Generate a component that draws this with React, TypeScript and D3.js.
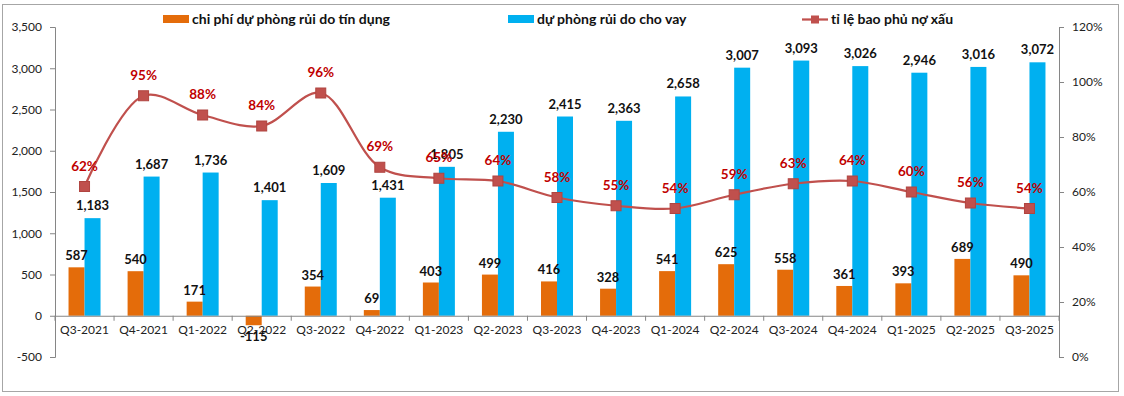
import React, { useEffect, useRef } from 'react'
import * as d3 from 'd3'

const categories = ['Q3-2021', 'Q4-2021', 'Q1-2022', 'Q2-2022', 'Q3-2022', 'Q4-2022', 'Q1-2023', 'Q2-2023', 'Q3-2023', 'Q4-2023', 'Q1-2024', 'Q2-2024', 'Q3-2024', 'Q4-2024', 'Q1-2025', 'Q2-2025', 'Q3-2025']
const creditCost = [587, 540, 171, -115, 354, 69, 403, 499, 416, 328, 541, 625, 558, 361, 393, 689, 490]
const loanProvision = [1183, 1687, 1736, 1401, 1609, 1431, 1805, 2230, 2415, 2363, 2658, 3007, 3093, 3026, 2946, 3016, 3072]
const coverageRatio = [0.62, 0.95, 0.88, 0.84, 0.96, 0.69, 0.65, 0.64, 0.58, 0.55, 0.54, 0.59, 0.63, 0.64, 0.60, 0.56, 0.54]
const leftTicks = [-500, 0, 500, 1000, 1500, 2000, 2500, 3000, 3500]
const rightTicks = [0, 0.2, 0.4, 0.6, 0.8, 1.0, 1.2]
const seriesNames = ['chi phí dự phòng rủi do tín dụng', 'dự phòng rủi do cho vay', 'tỉ lệ bao phủ nợ xấu']

const ORANGE = '#E46C0A'
const BLUE = '#00B0F0'
const RED = '#C0504D'
const LABEL_RED = '#C00000'
const AXIS = '#868686'
const FONT = 'Lato, "Open Sans", sans-serif'

// excel style numbers: plain hyphen for negatives
const num = (v: number) => d3.format(',')(v).replace('\u2212', '-')

const App = () => {
	const ref = useRef<SVGSVGElement>(null)

	useEffect(() => {
		const svg = d3.select(ref.current)
		svg.selectAll('*').remove()

		const left = 55
		const right = 1059
		const top = 27
		const bottom = 357

		const x = d3.scaleBand().domain(categories).range([left, right])
		const y = d3.scaleLinear().domain([-500, 3500]).range([bottom, top])
		const y2 = d3.scaleLinear().domain([0, 1.2]).range([bottom, top])
		const cx = (c: string) => (x(c) as number) + x.bandwidth() / 2
		const barW = 16

		// frame
		svg.append('rect')
			.attr('x', 2.5).attr('y', 4.5)
			.attr('width', 1116).attr('height', 387)
			.attr('fill', 'white').attr('stroke', '#A6A6A6')

		// left axis
		const yAxis = d3.axisLeft(y).tickValues(leftTicks).tickSize(5).tickPadding(8)
			.tickFormat(d => num(d as number))
		const gy = svg.append('g').attr('transform', `translate(${left},0)`).call(yAxis)
		gy.select('.domain').attr('stroke', AXIS)
		gy.selectAll('.tick line').attr('stroke', AXIS)
		gy.selectAll('.tick text').attr('font-family', FONT).attr('font-size', 12).attr('fill', '#222')

		// right axis
		const y2Axis = d3.axisRight(y2).tickValues(rightTicks).tickSize(5).tickPadding(8)
			.tickFormat(d => d3.format('.0%')(d as number))
		const gy2 = svg.append('g').attr('transform', `translate(${right},0)`).call(y2Axis)
		gy2.select('.domain').attr('stroke', AXIS)
		gy2.selectAll('.tick line').attr('stroke', AXIS)
		gy2.selectAll('.tick text').attr('font-family', FONT).attr('font-size', 12).attr('fill', '#222')

		// bars
		svg.append('g').selectAll('rect').data(categories).join('rect')
			.attr('x', c => cx(c) - barW)
			.attr('width', barW)
			.attr('y', (c, i) => y(Math.max(0, creditCost[i])))
			.attr('height', (c, i) => Math.abs(y(creditCost[i]) - y(0)))
			.attr('fill', ORANGE)
		svg.append('g').selectAll('rect').data(categories).join('rect')
			.attr('x', c => cx(c))
			.attr('width', barW)
			.attr('y', (c, i) => y(loanProvision[i]))
			.attr('height', (c, i) => y(0) - y(loanProvision[i]))
			.attr('fill', BLUE)

		// category axis
		const xAxis = d3.axisBottom(x).tickSize(0).tickPadding(10)
		const gx = svg.append('g').attr('transform', `translate(0,${y(0)})`).call(xAxis)
		gx.select('.domain').attr('stroke', AXIS)
		gx.selectAll('.tick text').attr('font-family', FONT).attr('font-size', 12).attr('fill', '#222')
		gx.selectAll('line.sep').data(d3.range(categories.length + 1)).join('line')
			.attr('class', 'sep')
			.attr('x1', i => left + i * x.step()).attr('x2', i => left + i * x.step())
			.attr('y1', 0).attr('y2', 5)
			.attr('stroke', AXIS)

		// bar labels
		svg.append('g').selectAll('text').data(categories).join('text')
			.attr('x', c => cx(c) - barW / 2)
			.attr('y', (c, i) => creditCost[i] >= 0 ? y(creditCost[i]) - 7 : y(creditCost[i]) + 16)
			.attr('text-anchor', 'middle')
			.attr('font-family', FONT).attr('font-size', 13).attr('font-weight', 'bold').attr('fill', '#111')
			.text((c, i) => num(creditCost[i]))
		svg.append('g').selectAll('text').data(categories).join('text')
			.attr('x', c => cx(c) + barW / 2)
			.attr('y', (c, i) => y(loanProvision[i]) - 8)
			.attr('text-anchor', 'middle')
			.attr('font-family', FONT).attr('font-size', 13).attr('font-weight', 'bold').attr('fill', '#111')
			.text((c, i) => num(loanProvision[i]))

		// coverage ratio line
		const line = d3.line<number>()
			.x((d, i) => cx(categories[i]))
			.y(d => y2(d))
			.curve(d3.curveCatmullRom.alpha(0.5))
		svg.append('path')
			.attr('d', line(coverageRatio))
			.attr('fill', 'none').attr('stroke', RED).attr('stroke-width', 2.25)
		svg.append('g').selectAll('rect').data(coverageRatio).join('rect')
			.attr('x', (d, i) => cx(categories[i]) - 5)
			.attr('y', d => y2(d) - 5)
			.attr('width', 10).attr('height', 10)
			.attr('fill', RED).attr('stroke', '#B04440')
		svg.append('g').selectAll('text').data(coverageRatio).join('text')
			.attr('x', (d, i) => cx(categories[i]))
			.attr('y', d => y2(d) - 16)
			.attr('text-anchor', 'middle')
			.attr('font-family', FONT).attr('font-size', 13.5).attr('font-weight', 'bold').attr('fill', LABEL_RED)
			.text(d => d3.format('.0%')(d))

		// legend
		const legend = svg.append('g').attr('font-family', FONT).attr('font-size', 14).attr('font-weight', 'bold').attr('fill', '#111')
		legend.append('rect').attr('x', 163).attr('y', 15).attr('width', 26).attr('height', 8).attr('fill', ORANGE)
		legend.append('text').attr('x', 192).attr('y', 24).text(seriesNames[0])
		legend.append('rect').attr('x', 508).attr('y', 15).attr('width', 26).attr('height', 8).attr('fill', BLUE)
		legend.append('text').attr('x', 537).attr('y', 24).text(seriesNames[1])
		legend.append('line').attr('x1', 802).attr('x2', 828).attr('y1', 19.5).attr('y2', 19.5).attr('stroke', RED).attr('stroke-width', 2.25)
		legend.append('rect').attr('x', 811).attr('y', 15.5).attr('width', 8).attr('height', 8).attr('fill', RED)
		legend.append('text').attr('x', 831).attr('y', 24).text(seriesNames[2])
	}, [])

	return (
		<svg ref={ref} width={1124} height={396} style={{ position: 'absolute', left: 0, top: 0 }} />
	)
}

export default App
